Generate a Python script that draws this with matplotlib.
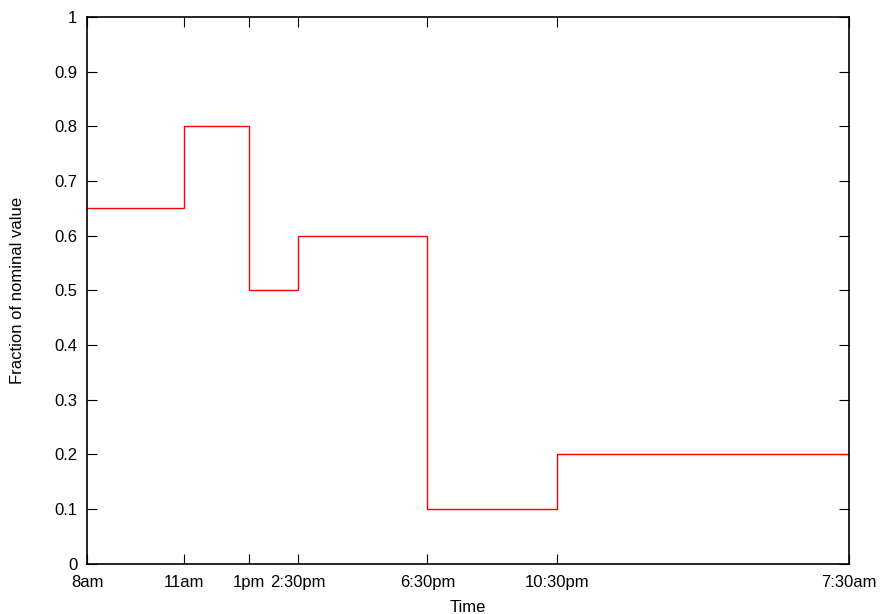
import matplotlib
matplotlib.use("Agg")
import matplotlib.pyplot as plt

plt.rcParams['font.family'] = ['Liberation Sans', 'DejaVu Sans']

# hours after 8am where the level changes, and the level held from there on
step_hours = [0, 3, 5, 6.5, 10.5, 14.5, 23.5]
fractions = [0.65, 0.8, 0.5, 0.6, 0.1, 0.2, 0.2]
tick_labels = ['8am', '11am', '1pm', '2:30pm', '6:30pm', '10:30pm', '7:30am']
y_ticks = [0, 0.1, 0.2, 0.3, 0.4, 0.5, 0.6, 0.7, 0.8, 0.9, 1]
y_labels = ['0', '0.1', '0.2', '0.3', '0.4', '0.5', '0.6', '0.7', '0.8', '0.9', '1']

fig = plt.figure(figsize=(8.8, 6.14), dpi=100)
ax = fig.add_axes([87 / 880, 50.5 / 614, 762 / 880, 546.5 / 614])

ax.step(step_hours, fractions, where='post', color='#ff0000', linewidth=1.0)

ax.set_xlim(0, 23.5)
ax.set_ylim(0, 1)
ax.set_xticks(step_hours)
ax.set_xticklabels(tick_labels)
ax.set_yticks(y_ticks)
ax.set_yticklabels(y_labels)
ax.tick_params(direction='in', length=7, width=0.8, top=True, right=True,
               labelsize=12)
ax.tick_params(axis='x', pad=8)
ax.tick_params(axis='y', pad=7)
for spine in ax.spines.values():
    spine.set_linewidth(1.2)

ax.set_xlabel('Time', fontsize=12, va='center')
ax.xaxis.set_label_coords(0.5, -0.0814)
ax.set_ylabel('Fraction of nominal value', fontsize=12, va='center')
ax.yaxis.set_label_coords(-0.0912, 0.5)

fig.savefig('out.png', dpi=100)
